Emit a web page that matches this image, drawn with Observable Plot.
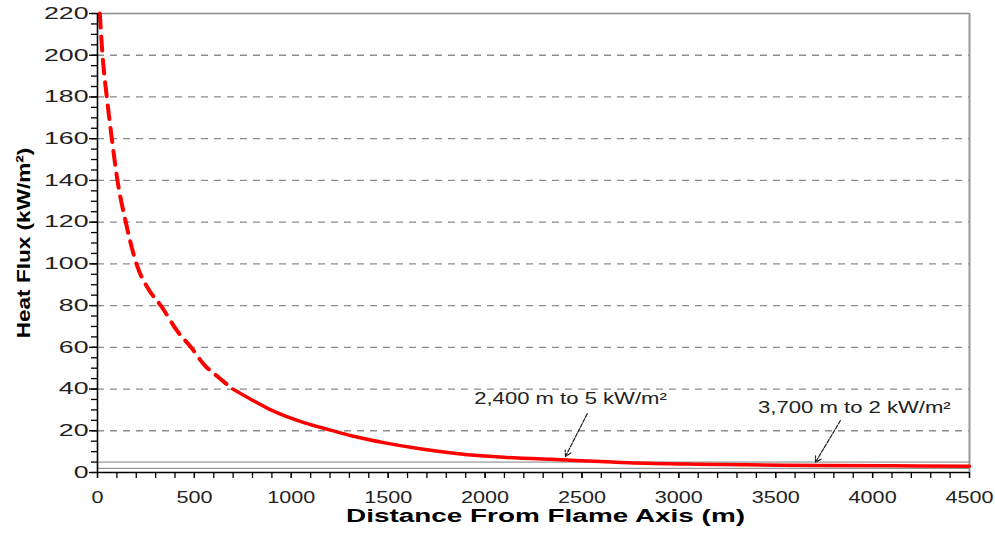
<!DOCTYPE html>
<html>
<head>
<meta charset="utf-8">
<script src="https://cdn.jsdelivr.net/npm/d3@7"></script>
<script src="https://cdn.jsdelivr.net/npm/@observablehq/plot@0.6"></script>
<style>
  html, body { margin: 0; padding: 0; background: #fff; }
  #chart { width: 995px; height: 535px; }
</style>
</head>
<body>
<div id="chart"></div>
<script>
// Heat flux curve (distance m, heat flux kW/m²)
const distance = [12, 26, 48, 74, 103, 146, 170, 203, 265, 327, 414, 483, 551, 621, 698, 793, 897, 1069, 1207, 1310, 1483, 1655, 1828, 2000, 2172, 2345, 2420, 2741, 3086, 3431, 3724, 4100, 4500];
const flux     = [220, 200, 180, 160, 140, 120, 110.4, 99.5, 87.6, 80, 67.5, 60, 51.6, 45.9, 40, 35, 29.9, 23.8, 20.2, 17.6, 14.2, 11.5, 9.4, 7.9, 6.9, 6.3, 6.0, 4.7, 4.0, 3.6, 3.4, 3.2, 3.0];
const dashedUntil = 698; // curve is dashed up to this distance

// Threshold reference lines (kW/m²)
const thresholds = [5, 2];

// Annotations
const annText  = ["2,400 m to 5 kW/m²", "3,700 m to 2 kW/m²"];
const annX     = [2441, 3906];
const annY     = [35.5, 30.9];
const arrowX1  = [2527, 3834];
const arrowY1  = [28.1, 24.9];
const arrowX2  = [2415, 3705];
const arrowY2  = [7.7, 4.9];

// Titles
const xTitle = "Distance From Flame Axis (m)";
const yTitle = "Heat Flux (kW/m²)";

// Axis ticks
const xTicks      = [0, 500, 1000, 1500, 2000, 2500, 3000, 3500, 4000, 4500];
const xMinorTicks = d3.range(0, 4501, 100);
const yTicks      = [0, 20, 40, 60, 80, 100, 120, 140, 160, 180, 200, 220];
const yMinorTicks = d3.range(0, 221, 5);
const yGrid       = [20, 40, 60, 80, 100, 120, 140, 160, 180, 200];

const points = distance.map((d, i) => ({d, f: flux[i]}));
const dashedPts = points.filter(p => p.d <= dashedUntil);
const solidPts = points.filter(p => p.d >= dashedUntil);
const anns = annText.map((t, i) => ({t, x: annX[i], y: annY[i], x1: arrowX1[i], y1: arrowY1[i], x2: arrowX2[i], y2: arrowY2[i]}));

const svg = Plot.plot({
  width: 995,
  height: 535,
  marginLeft: 97,
  marginRight: 26,
  marginTop: 13,
  marginBottom: 63,
  style: {fontFamily: "'Liberation Sans', Arial, sans-serif", background: "#fff", color: "#222"},
  x: {domain: [0, 4500]},
  y: {domain: [0, 220]},
  marks: [
    Plot.ruleY(yGrid, {stroke: "#8c8c8c", strokeWidth: 1.3, strokeDasharray: "7,6"}),
    Plot.ruleY([220], {stroke: "#8c8c8c", strokeWidth: 1.5}),
    Plot.ruleX([4500], {stroke: "#999", strokeWidth: 2}),
    Plot.ruleY(thresholds, {stroke: "#808080", strokeWidth: 1}),
    Plot.line(dashedPts, {x: "d", y: "f", stroke: "#ff0000", strokeWidth: 4, strokeDasharray: "14,9", curve: "monotone-x"}),
    Plot.line(solidPts, {x: "d", y: "f", stroke: "#ff0000", strokeWidth: 3.5, curve: "monotone-x"}),
    Plot.arrow(anns, {x1: "x1", y1: "y1", x2: "x2", y2: "y2", stroke: "#222", strokeWidth: 1.2, headLength: 8, strokeDasharray: "4,1.5"}),
    Plot.text(anns, {x: "x", y: "y", text: "t", fontSize: 16, fill: "#222"}),
    Plot.ruleX([0], {stroke: "#000", strokeWidth: 1.6}),
    Plot.ruleY([0], {stroke: "#000", strokeWidth: 1.6}),
    Plot.axisX(xMinorTicks, {tickSize: 6, fill: "none", stroke: "#000", strokeWidth: 1.3, label: null}),
    Plot.axisX(xTicks, {tickSize: 6, tickPadding: 13.5, tickFormat: d => String(d), fontSize: 16, fill: "#222", stroke: "#000", strokeWidth: 1.3, label: null}),
    Plot.axisY(yMinorTicks, {tickSize: 6, fill: "none", stroke: "#000", strokeWidth: 1.3, label: null}),
    Plot.axisY(yTicks, {tickSize: 8, tickPadding: 1, tickFormat: d => String(d), fontSize: 16.5, fill: "#222", stroke: "#000", strokeWidth: 1.3, label: null}),
    Plot.text([xTitle], {frameAnchor: "bottom", dx: 12, dy: 49.7, lineAnchor: "bottom", textAnchor: "middle", fontSize: 18, fontWeight: "bold", fill: "#000"}),
    Plot.text([yTitle], {frameAnchor: "left", dx: -67.7, rotate: -90, lineAnchor: "bottom", textAnchor: "middle", fontSize: 18.5, fontWeight: "bold", fill: "#000"})
  ]
});

document.getElementById("chart").appendChild(svg);

// The reference's lettering is wide; stretch each text along its own direction
function stretchEl(t, s) {
  const L = t.getComputedTextLength();
  if (L > 0) {
    t.setAttribute("textLength", (L * s).toFixed(2));
    t.setAttribute("lengthAdjust", "spacingAndGlyphs");
  }
}
svg.querySelectorAll('g[aria-label="x-axis tick label"] text').forEach(t => stretchEl(t, 1.35));
svg.querySelectorAll('g[aria-label="y-axis tick label"] text').forEach(t => stretchEl(t, 1.62));
svg.querySelectorAll("text").forEach(t => {
  const c = t.textContent;
  if (annText.includes(c)) stretchEl(t, 1.38);
  else if (c === xTitle) stretchEl(t, 1.55);
  else if (c === yTitle) stretchEl(t, 1.22);
});
</script>
</body>
</html>
